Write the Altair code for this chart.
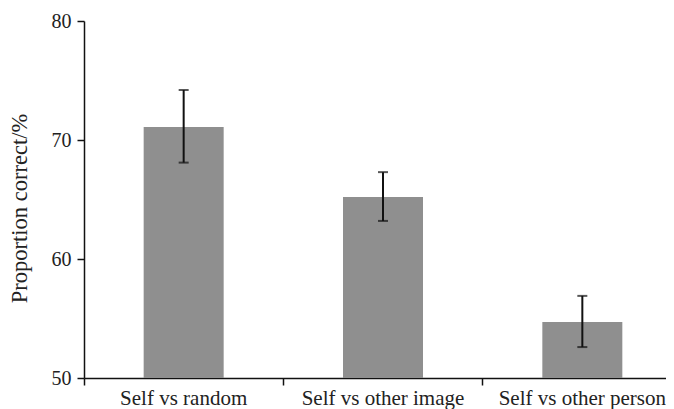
import altair as alt
import pandas as pd

categories = ["Self vs random", "Self vs other image", "Self vs other person"]
means = [71.1, 65.2, 54.7]
err_low = [68.1, 63.2, 52.6]
err_high = [74.2, 67.3, 56.9]
y_ticks = [50, 60, 70, 80]

df = pd.DataFrame({"cat": categories, "mean": means, "lo": err_low, "hi": err_high})

FONT = "Liberation Serif"

x_enc = alt.X(
    "cat:N", sort=categories, title=None,
    scale=alt.Scale(paddingInner=0, paddingOuter=0, rangeMin=0, rangeMax=598),
    axis=alt.Axis(labelAngle=0, bandPosition=0, tickSize=7, labelFontSize=21,
                  labelPadding=2, labelFont=FONT, labelColor="#222",
                  domainColor="#111", tickColor="#111", domainWidth=1.5, tickWidth=1.5),
)
y_scale = alt.Scale(domain=[50, 80], nice=False, zero=False)
y_axis = alt.Axis(values=y_ticks, tickSize=7, labelFontSize=20, labelFont=FONT,
                  labelColor="#222", labelPadding=6, grid=False,
                  domainColor="#111", tickColor="#111", domainWidth=1.5, tickWidth=1.5,
                  title="Proportion correct/%", titleFont=FONT, titleFontSize=22.5,
                  titleFontWeight="normal", titleColor="#222", titleX=-58, titleY=187,
                  titleAngle=270, titleAlign="center", titleBaseline="alphabetic")

base = alt.Chart(df)

bars = base.mark_bar(size=80, color="#8f8f8f").encode(
    x=x_enc,
    y=alt.Y("mean:Q", scale=y_scale, axis=y_axis),
    y2=alt.datum(50),
)
rules = base.mark_rule(strokeWidth=2, color="#111").encode(
    x=x_enc, y=alt.Y("lo:Q", scale=y_scale, axis=y_axis), y2="hi:Q"
)
cap_hi = base.mark_tick(size=10, thickness=2, color="#111", orient="horizontal").encode(
    x=x_enc, y=alt.Y("hi:Q", scale=y_scale, axis=y_axis)
)
cap_lo = base.mark_tick(size=10, thickness=2, color="#111", orient="horizontal").encode(
    x=x_enc, y=alt.Y("lo:Q", scale=y_scale, axis=y_axis)
)

chart = alt.layer(bars, rules, cap_hi, cap_lo).properties(
    width=582, height=357,
    background="white",
    autosize=alt.AutoSizeParams(type="none"),
    padding={"left": 76, "top": 13, "right": 0, "bottom": 31},
).configure_view(strokeWidth=0)

chart.save("out.html", embed_options={"renderer": "svg", "actions": False})
